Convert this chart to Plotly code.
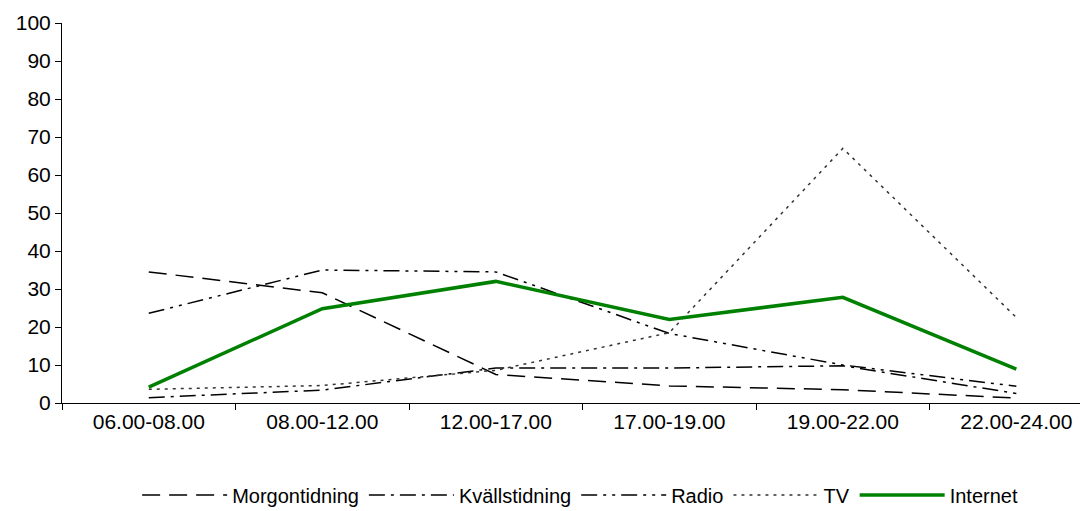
import plotly.graph_objects as go

categories = ["06.00-08.00", "08.00-12.00", "12.00-17.00", "17.00-19.00", "19.00-22.00", "22.00-24.00"]
morgontidning = [34.5, 29, 7.5, 4.5, 3.5, 1.3]
kvallstidning = [1.4, 3.4, 9.2, 9.2, 9.8, 2.5]
radio = [23.6, 35, 34.5, 18.3, 10, 4.4]
tv = [3.6, 4.6, 8.6, 18.5, 67, 22.5]
internet = [4.2, 24.8, 32, 22, 27.8, 8.9]

series = [
    ("Morgontidning", morgontidning, dict(color="black", width=1.5, dash="18px,9px")),
    ("Kvällstidning", kvallstidning, dict(color="black", width=1.5, dash="16px,6px,3px,6px")),
    ("Radio", radio, dict(color="black", width=1.5, dash="16px,6px,3px,6px,3px,6px")),
    ("TV", tv, dict(color="#333333", width=1.5, dash="3px,5px")),
    ("Internet", internet, dict(color="#008000", width=3.5)),
]

fig = go.Figure()
for name, vals, line in series:
    fig.add_trace(go.Scatter(x=categories, y=vals, mode="lines", name=name, line=line))

fig.update_layout(
    width=1088, height=511,
    margin=dict(l=54, r=8, t=15, b=116, autoexpand=False),
    paper_bgcolor="white", plot_bgcolor="white",
    font=dict(family="Liberation Sans, Arial, sans-serif", size=21, color="black"),
    showlegend=True,
    legend=dict(orientation="h", x=0.505, xanchor="center", y=-0.242, yanchor="middle",
                font=dict(size=20), itemwidth=85, tracegroupgap=0),
)
fig.update_xaxes(
    type="category", range=[-0.5, 5.413], showgrid=False, zeroline=False,
    showline=True, linecolor="black", linewidth=1, automargin=False,
    ticks="outside", tickson="boundaries", ticklen=6, tickcolor="black",
    tickfont=dict(size=21), fixedrange=True,
)
fig.update_yaxes(
    range=[0, 100], dtick=10, showgrid=False, zeroline=False,
    showline=True, linecolor="black", linewidth=1, automargin=False,
    ticks="outside", ticklen=6, tickcolor="black", tickfont=dict(size=21),
)

fig.write_html("out.html")
